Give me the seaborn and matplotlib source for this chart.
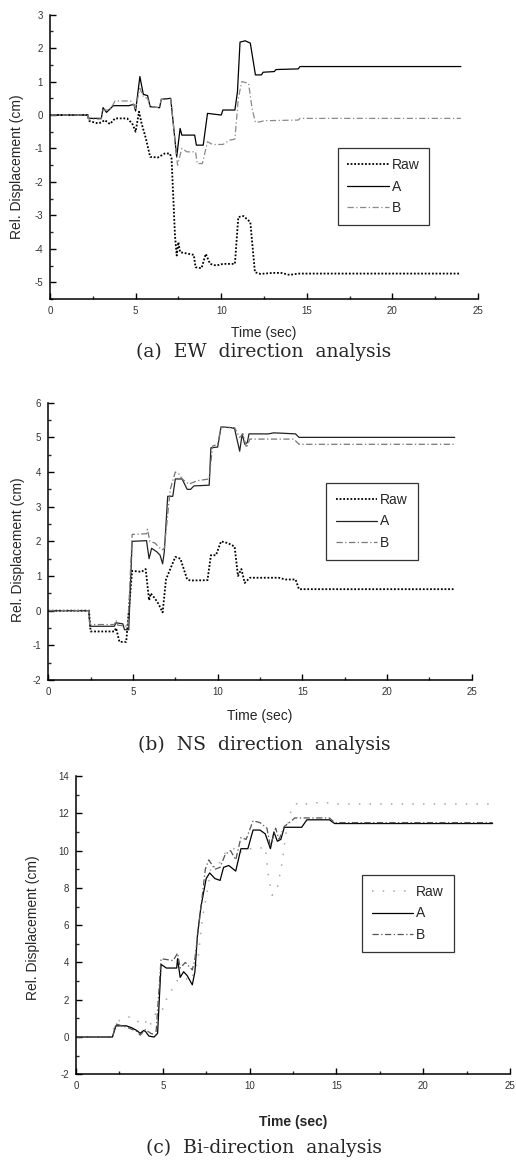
import matplotlib
matplotlib.use("Agg")
import matplotlib.pyplot as plt
import seaborn as sns
from matplotlib.ticker import MultipleLocator

# ---------------- data (time [s], displacement [cm]) ----------------
EW_RAW = [(0,0),(2.2,0),(2.3,-0.18),(2.8,-0.25),(3.0,-0.22),(3.2,-0.15),(3.5,-0.27),(3.8,-0.1),(4.5,-0.1),
          (4.8,-0.25),(5.0,-0.5),(5.2,0.1),(5.35,-0.25),(5.6,-0.7),(5.85,-1.25),(6.3,-1.27),(6.7,-1.15),
          (7.0,-1.15),(7.1,-1.3),(7.3,-3.6),(7.4,-4.2),(7.5,-3.8),(7.6,-4.1),(7.8,-4.12),(8.4,-4.18),
          (8.5,-4.55),(8.85,-4.58),(9.1,-4.15),(9.35,-4.45),(9.7,-4.5),(10.1,-4.45),(10.8,-4.45),
          (11.0,-3.05),(11.3,-3.02),(11.7,-3.2),(11.97,-4.7),(12.3,-4.75),(13.0,-4.72),(13.5,-4.72),
          (14.0,-4.78),(14.5,-4.74),(24.0,-4.74)]
EW_A = [(0,0),(2.2,0),(2.25,-0.1),(3.0,-0.1),(3.1,0.22),(3.3,0.08),(3.7,0.28),(4.6,0.28),(4.9,0.32),(5.0,0.12),
        (5.25,1.15),(5.45,0.62),(5.7,0.58),(5.85,0.25),(6.4,0.22),(6.5,0.47),(7.05,0.5),(7.4,-1.25),(7.6,-0.4),
        (7.7,-0.6),(8.45,-0.6),(8.55,-0.9),(8.95,-0.9),(9.2,0.05),(10.0,0.0),(10.1,0.15),(10.8,0.15),(10.95,0.7),
        (11.1,2.18),(11.4,2.22),(11.7,2.15),(12.0,1.2),(12.35,1.2),(12.45,1.28),(13.1,1.3),(13.2,1.36),
        (14.5,1.38),(14.6,1.45),(24.0,1.45)]
EW_B = [(0,0),(2.2,0),(2.25,-0.12),(3.0,-0.12),(3.1,0.15),(3.5,0.15),(3.8,0.42),(4.7,0.42),(4.9,0.3),(5.0,0.2),
        (5.25,0.8),(5.45,0.55),(5.7,0.5),(5.85,0.25),(6.4,0.22),(6.5,0.47),(7.05,0.48),(7.45,-1.5),(7.7,-1.0),
        (8.0,-1.1),(8.5,-1.1),(8.6,-1.45),(8.9,-1.45),(9.2,-0.8),(9.5,-0.88),(10.1,-0.88),(10.5,-0.75),
        (10.8,-0.72),(11.0,0.5),(11.2,1.0),(11.6,0.95),(11.8,0.2),(12.0,-0.22),(12.3,-0.2),(12.5,-0.17),
        (14.5,-0.15),(14.6,-0.1),(24.0,-0.1)]

NS_RAW = [(0,0),(2.4,0),(2.5,-0.6),(3.9,-0.6),(4.0,-0.5),(4.2,-0.9),(4.6,-0.9),(4.95,1.15),(5.5,1.12),(5.75,1.2),
          (5.95,0.3),(6.05,0.5),(6.3,0.35),(6.5,0.2),(6.75,-0.05),(6.95,0.9),(7.2,1.2),(7.5,1.55),(7.8,1.5),
          (8.2,0.9),(8.4,0.87),(9.4,0.88),(9.6,1.6),(9.9,1.6),(10.2,2.0),(10.6,1.95),(11.0,1.85),(11.2,1.0),
          (11.4,1.2),(11.6,0.8),(11.9,0.95),(13.6,0.95),(14.0,0.9),(14.6,0.9),(14.8,0.62),(24.0,0.62)]
NS_A = [(0,0),(2.4,0),(2.45,-0.45),(3.9,-0.45),(4.0,-0.35),(4.4,-0.38),(4.5,-0.55),(4.75,-0.55),(4.95,2.0),
        (5.8,2.02),(5.95,1.5),(6.1,1.8),(6.4,1.7),(6.6,1.6),(6.75,1.35),(6.85,1.7),(7.05,3.3),(7.35,3.3),
        (7.5,3.8),(7.9,3.8),(8.2,3.5),(8.4,3.5),(8.6,3.6),(9.5,3.62),(9.6,4.7),(10.0,4.72),(10.2,5.3),
        (10.8,5.28),(11.0,5.25),(11.3,4.6),(11.45,5.1),(11.6,4.8),(11.75,4.85),(11.85,5.1),(13.0,5.1),
        (13.3,5.13),(13.8,5.12),(14.6,5.1),(14.8,5.0),(24.0,5.0)]
NS_B = [(0,0),(2.4,0),(2.45,-0.4),(3.9,-0.4),(4.0,-0.28),(4.1,-0.42),(4.7,-0.45),(4.95,2.2),(5.8,2.22),
        (5.85,2.35),(6.0,2.0),(6.3,1.95),(6.7,1.75),(6.85,1.8),(7.2,3.5),(7.5,4.0),(7.7,3.95),(7.9,3.8),
        (8.3,3.65),(8.8,3.75),(9.5,3.8),(9.7,4.75),(10.0,4.8),(10.2,5.3),(11.0,5.28),(11.3,5.0),(11.5,5.1),
        (11.7,4.7),(11.9,4.95),(14.5,4.95),(14.8,4.8),(24.0,4.8)]

BI_RAW = [(0,0),(2.0,0),(2.3,0.8),(3.0,1.1),(3.5,0.8),(3.9,1.0),(4.2,0.5),(4.7,1.5),(5.0,1.5),(5.2,2.0),
          (5.5,2.5),(5.8,3.0),(6.2,3.2),(6.6,3.0),(7.0,4.0),(7.3,6.5),(7.6,8.0),(7.8,9.3),(8.1,9.0),(8.4,9.6),
          (8.7,10.0),(9.1,10.1),(9.3,9.8),(9.8,10.1),(10.5,10.1),(10.9,10.2),(11.1,8.5),(11.3,7.6),(11.6,8.0),
          (11.9,9.5),(12.1,11.0),(12.4,12.2),(12.8,12.6),(13.3,12.5),(14.2,12.6),(15.0,12.5),(24.0,12.5)]
BI_A = [(0,0),(2.1,0),(2.3,0.6),(2.9,0.6),(3.2,0.5),(3.5,0.35),(3.7,0.2),(3.9,0.35),(4.0,0.3),(4.2,0.05),
        (4.5,0.0),(4.7,0.2),(4.9,3.9),(5.2,3.7),(5.8,3.7),(5.85,4.2),(6.0,3.2),(6.2,3.5),(6.4,3.3),(6.7,2.8),
        (6.85,3.5),(7.0,5.5),(7.2,7.0),(7.5,8.5),(7.7,8.8),(8.0,8.5),(8.3,8.4),(8.5,9.1),(8.8,9.2),(9.2,8.9),
        (9.5,10.1),(9.9,10.1),(10.2,11.1),(10.6,11.1),(10.9,10.9),(11.2,10.1),(11.4,11.0),(11.6,10.5),
        (11.8,10.6),(12.0,11.25),(13.0,11.25),(13.3,11.65),(14.6,11.65),(14.9,11.45),(24.0,11.45)]
BI_B = [(0,0),(2.1,0),(2.3,0.7),(3.0,0.5),(3.5,0.3),(3.7,0.1),(4.0,0.4),(4.3,0.2),(4.6,0.1),(4.9,4.2),
        (5.6,4.1),(5.85,4.5),(6.0,3.7),(6.3,4.0),(6.7,3.6),(6.85,4.2),(7.2,7.0),(7.45,9.0),(7.65,9.5),(8.0,9.0),
        (8.3,9.1),(8.6,9.8),(8.9,10.0),(9.2,9.5),(9.5,10.7),(9.8,10.6),(10.2,11.6),(10.6,11.5),(11.0,11.2),
        (11.2,10.2),(11.5,11.2),(11.7,10.6),(12.0,11.3),(12.3,11.5),(12.6,11.75),(14.6,11.75),(14.9,11.5),
        (24.0,11.5)]

SERIES_LABELS = ["Raw", "A", "B"]
CAPTIONS = ["(a)  EW  direction  analysis", "(b)  NS  direction  analysis", "(c)  Bi-direction  analysis"]
X_LABEL = "Time (sec)"
Y_LABEL = "Rel. Displacement (cm)"

# ---------------- style ----------------
sns.set_theme(style="ticks")
plt.rcParams["font.family"] = ["Liberation Sans", "DejaVu Sans"]
plt.rcParams["axes.unicode_minus"] = False

W, H = 516, 1162
fig = plt.figure(figsize=(W / 100, H / 100), dpi=100)


def px_axes(left, right, top, bottom):
    return fig.add_axes([left / W, 1 - bottom / H, (right - left) / W, (bottom - top) / H])


panels = [
    dict(data=(EW_RAW, EW_A, EW_B), box=(50, 478, 14.7, 299), ylim=(-5.5, 3), ymaj=1, ymin=0.5,
         raw_style=dict(color="black", dashes=(1, 1), lw=1.3), a_color="black", b_color="#8a8a8a",
         leg=(0.672, 0.53), ylab=(17, 167), xlab_y=333, cap_y=352, xbold="normal"),
    dict(data=(NS_RAW, NS_A, NS_B), box=(48.3, 471.7, 402.7, 680), ylim=(-2, 6), ymaj=1, ymin=0.5,
         raw_style=dict(color="black", dashes=(1, 1), lw=1.3), a_color="#222222", b_color="#777777",
         leg=(0.656, 0.71), ylab=(18, 550), xlab_y=716, cap_y=745, xbold="normal"),
    dict(data=(BI_RAW, BI_A, BI_B), box=(76, 510, 776, 1074.3), ylim=(-2, 14), ymaj=2, ymin=1,
         raw_style=dict(color="#a8a8a8", dashes=(1, 6), lw=1.1), a_color="black", b_color="#555555",
         leg=(0.659, 0.668), ylab=(33, 928), xlab_y=1122, cap_y=1148, xbold="semibold"),
]

for i, p in enumerate(panels):
    l, r, t, b = p["box"]
    ax = px_axes(l, r, t, b)
    raw, A, B = p["data"]
    rt, rv = zip(*raw)
    at, av = zip(*A)
    bt, bv = zip(*B)
    rs = p["raw_style"]
    sns.lineplot(x=list(rt), y=list(rv), ax=ax, estimator=None, sort=False, color=rs["color"],
                 lw=rs["lw"], label=SERIES_LABELS[0])
    ax.lines[-1].set_dashes(rs["dashes"])
    sns.lineplot(x=list(at), y=list(av), ax=ax, estimator=None, sort=False, color=p["a_color"],
                 lw=0.9, label=SERIES_LABELS[1])
    sns.lineplot(x=list(bt), y=list(bv), ax=ax, estimator=None, sort=False, color=p["b_color"],
                 lw=0.9, label=SERIES_LABELS[2])
    ax.lines[-1].set_dashes((5, 2, 1, 2))

    ax.set_xlim(0, 25)
    ax.set_ylim(*p["ylim"])
    ax.xaxis.set_major_locator(MultipleLocator(5))
    ax.xaxis.set_minor_locator(MultipleLocator(2.5))
    ax.yaxis.set_major_locator(MultipleLocator(p["ymaj"]))
    ax.yaxis.set_minor_locator(MultipleLocator(p["ymin"]))
    ax.tick_params(which="major", direction="in", length=4, width=1, labelsize=7, colors="black",
                   labelcolor="#333333", pad=5)
    ax.tick_params(which="minor", direction="in", length=2, width=1)
    for s in ("top", "right"):
        ax.spines[s].set_visible(False)
    for s in ("left", "bottom"):
        ax.spines[s].set_color("black")
        ax.spines[s].set_linewidth(1.1)
    ax.set_xlabel("")
    ax.set_ylabel("")
    ax.set_facecolor("white")

    leg = ax.legend(loc="upper left", bbox_to_anchor=p["leg"], frameon=True, fancybox=False,
                    fontsize=10, handlelength=3.0, handletextpad=0.2, labelspacing=0.55,
                    borderpad=0.7, borderaxespad=0.0)
    leg.get_frame().set_edgecolor("black")
    leg.get_frame().set_linewidth(0.9)

    cx = (l + r) / 2
    fig.text(cx / W, 1 - p["xlab_y"] / H, X_LABEL, ha="center", va="center", fontsize=10,
             fontweight=p["xbold"])
    yx, yy = p["ylab"]
    fig.text(yx / W, 1 - yy / H, Y_LABEL, ha="center", va="center", rotation=90, fontsize=10)
    fig.text(264 / W, 1 - p["cap_y"] / H, CAPTIONS[i], ha="center", va="center",
             fontsize=13.5, family=["DejaVu Serif"])

fig.savefig("out.png", dpi=100, facecolor="white")
